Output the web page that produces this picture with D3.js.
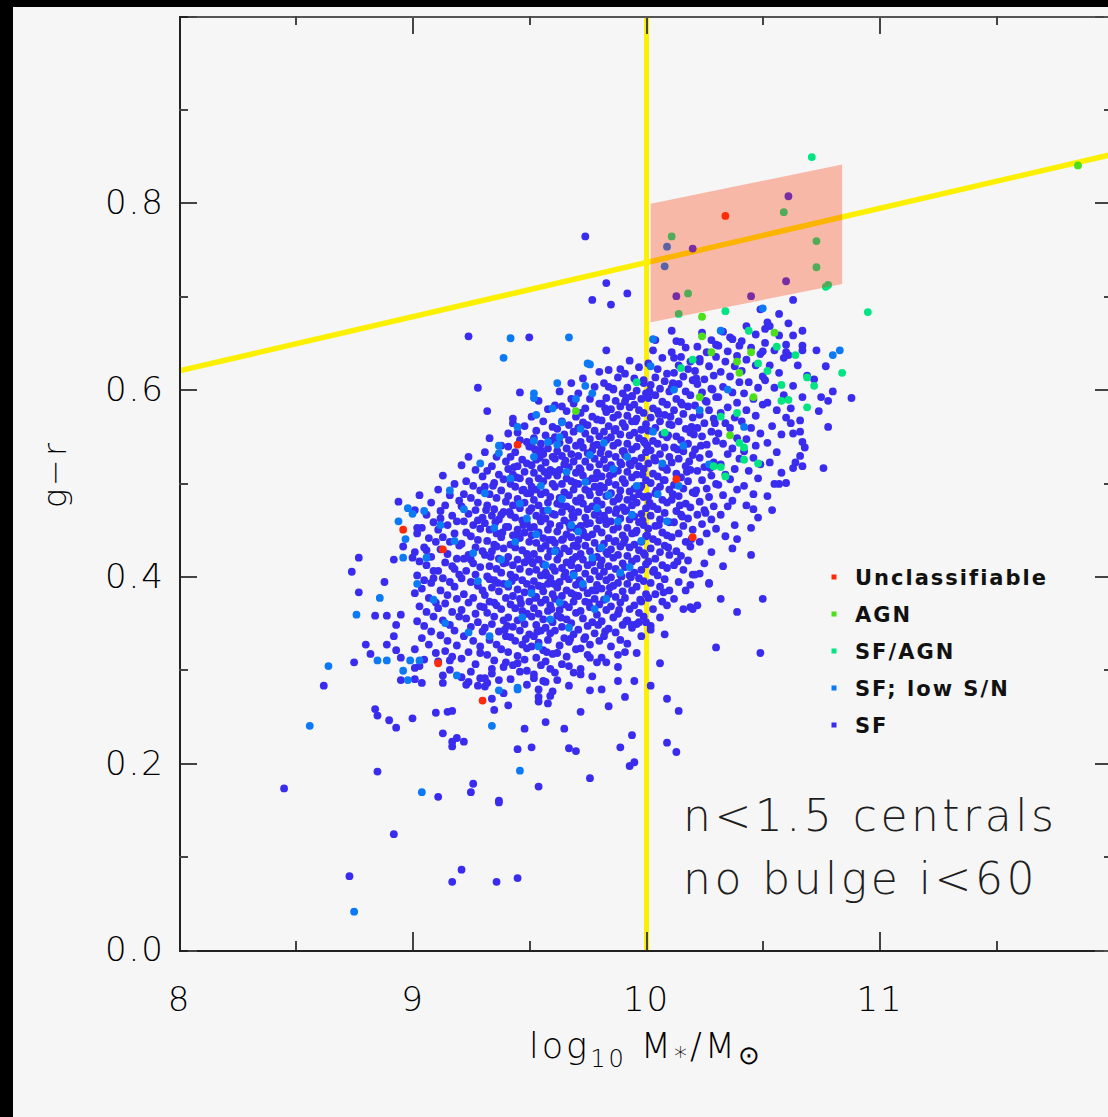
<!DOCTYPE html>
<html>
<head>
<meta charset="utf-8">
<script src="https://cdn.jsdelivr.net/npm/d3@7"></script>
<style>
  html, body { margin: 0; padding: 0; background: #f6f6f6; }
  svg { display: block; }
</style>
</head>
<body>
<svg id="chart" width="1108" height="1117"></svg>
<script>
// ---------------- axis setup ----------------
const massDomain = [8, 12];
const colourDomain = [0, 1];
const massMajorTicks = [8, 9, 10, 11, 12];
const massMinorTicks = [8.5, 9.5, 10.5, 11.5];
const colourMajorTicks = [0, 0.2, 0.4, 0.6, 0.8, 1.0];
const colourMinorTicks = [0.1, 0.3, 0.5, 0.7, 0.9];
const massTickLabels = ["8", "9", "10", "11", ""];
const colourTickLabels = ["0.0", "0.2", "0.4", "0.6", "0.8", ""];

// mass cut and red-sequence dividing line (log M, g-r)
const massCut = 10;
const dividingLine = [[8, 0.62], [12, 0.852]];
// highlighted region above the mass cut
const highlightBox = [[10.02, 0.672], [10.02, 0.799], [10.84, 0.841], [10.84, 0.713]];

// ---------------- galaxies: [log10 M*, g-r] ----------------
const sfPoints = [
  // sparse low-mass / blue tail
  [8.94,.480],[9.02,.452],[8.96,.432],[8.77,.420],[8.92,.418],[9.00,.420],[8.74,.405],[8.88,.394],[8.77,.383],[8.84,.358],
  [8.89,.358],[8.95,.359],[8.93,.348],[8.92,.336],[8.80,.327],[8.89,.327],[8.93,.321],[8.82,.317],[8.75,.308],[8.95,.313],
  [9.01,.302],[8.62,.283],[8.95,.289],[9.01,.290],[9.04,.286],[9.16,.310],[9.13,.286],[9.21,.292],[9.24,.287],[9.28,.283],
  [9.34,.269],[8.84,.258],[8.85,.251],[8.90,.246],[8.93,.238],[9.00,.248],[9.10,.254],[9.15,.255],[9.17,.256],[9.13,.232],
  [9.17,.223],[9.19,.227],[9.22,.223],[9.17,.218],[8.85,.191],[8.45,.173],[9.11,.164],[9.26,.178],[9.25,.169],[9.37,.160],
  [8.92,.124],[9.21,.086],[8.73,.079],[9.17,.073],[9.36,.073],[9.45,.077],
  // sparse upper edge
  [9.74,.764],[9.83,.714],[9.92,.703],[9.77,.696],[9.85,.691],[9.24,.657],[9.50,.656],[9.83,.642],[9.80,.619],[9.89,.622],
  [9.28,.602],[9.46,.597],[9.68,.607],[9.84,.603],[9.99,.610],[9.32,.577],[9.43,.564],[9.45,.554],[9.41,.539],[9.49,.544],
  [9.55,.535],[9.64,.582],[9.69,.585],[9.86,.600],[9.94,.593],
  [10.61,.807],[10.20,.751],[10.60,.716],[10.13,.700],[10.45,.700],
  // high-mass side
  [10.63,.696],[10.49,.686],[10.57,.681],[10.61,.671],[10.67,.663],[10.11,.663],[10.51,.665],[10.52,.672],[10.04,.653],[10.15,.651],
  [10.30,.648],[10.36,.656],[10.40,.647],[10.50,.641],[10.60,.648],[10.60,.640],[10.67,.642],[10.23,.633],[10.12,.634],[10.75,.592],
  [10.78,.588],[10.88,.591],[10.76,.516],[10.63,.516],[10.57,.499],[10.60,.500],[10.54,.471],[10.46,.472],[10.66,.555],[10.67,.544],
  [10.62,.564],[10.66,.529],[10.67,.518],
  [10.32,.376],[10.39,.362],[10.50,.376],[10.16,.365],[10.20,.365],[10.22,.369],[10.27,.392],[10.19,.391],[10.30,.324],[10.49,.318],
  [10.23,.403],[10.33,.411],[10.45,.423],[10.39,.440],
  // sparse lower edge
  [10.06,.307],[10.02,.283],[10.09,.269],[10.14,.256],[10.09,.222],[10.13,.212],[9.94,.230],[9.89,.217],[9.95,.201],[9.93,.197],
  [9.76,.184],[9.54,.175],[9.37,.158],[9.45,.215],[9.51,.217],[9.48,.237],[9.57,.244],[9.65,.237],[9.67,.216],[9.70,.213],
  [9.72,.255],[9.84,.261],[9.91,.271],[9.54,.271],[9.54,.266],[9.58,.264],[9.76,.278],[9.81,.279],[9.88,.288],[9.88,.303],
  [9.95,.288],[9.91,.319],[9.81,.313],[9.76,.313],[9.60,.277],[9.72,.295],[9.67,.304],[9.61,.297],[9.56,.288],[9.52,.291],
  [9.49,.299],[9.45,.307],[9.32,.286],[9.31,.291],[9.34,.301],[9.40,.308],[9.29,.318],[9.94,.348],[9.97,.351],[10.00,.351],
  [10.02,.343],[9.35,.257],[9.41,.262],[9.39,.275],
  // main cloud, 9.0 - 9.1
  [9.03,.487],[9.08,.479],[9.01,.471],[9.06,.466],[9.09,.458],[9.04,.452],[9.02,.446],[9.07,.441],[9.10,.437],[9.05,.431],
  [9.01,.426],[9.08,.421],[9.03,.416],[9.06,.412],[9.09,.406],[9.02,.401],[9.05,.396],[9.08,.393],[9.04,.387],[9.01,.382],
  [9.07,.377],[9.10,.372],[9.03,.368],[9.06,.362],[9.09,.357],[9.02,.352],[9.05,.347],[9.08,.341],[9.04,.334],[9.07,.327],
  [9.01,.322],[9.10,.318],[9.05,.311],[9.03,.304],[9.09,.398],[9.06,.428],
  // 9.1 - 9.2
  [9.13,.508],[9.18,.499],[9.11,.493],[9.16,.487],[9.20,.481],[9.14,.476],[9.12,.470],[9.17,.465],[9.19,.459],[9.15,.455],
  [9.11,.450],[9.18,.446],[9.13,.442],[9.16,.437],[9.20,.433],[9.12,.429],[9.15,.424],[9.19,.419],[9.14,.415],[9.17,.411],
  [9.11,.406],[9.20,.402],[9.13,.398],[9.16,.394],[9.18,.389],[9.12,.385],[9.15,.380],[9.19,.376],[9.14,.371],[9.11,.366],
  [9.17,.362],[9.20,.357],[9.13,.353],[9.16,.348],[9.18,.342],[9.12,.337],[9.15,.331],[9.19,.326],[9.14,.320],[9.17,.314],
  [9.11,.309],[9.16,.300],[9.13,.294],[9.18,.408],[9.12,.462],
  // 9.2 - 9.3
  [9.24,.528],[9.21,.519],[9.27,.514],[9.30,.507],[9.23,.502],[9.26,.497],[9.29,.492],[9.22,.488],[9.25,.484],[9.28,.479],
  [9.21,.475],[9.27,.471],[9.24,.467],[9.30,.463],[9.22,.459],[9.26,.455],[9.29,.451],[9.23,.447],[9.25,.443],[9.28,.439],
  [9.21,.435],[9.27,.431],[9.30,.427],[9.24,.423],[9.22,.419],[9.26,.414],[9.29,.410],[9.23,.406],[9.27,.402],[9.21,.398],
  [9.25,.394],[9.28,.390],[9.30,.385],[9.22,.381],[9.26,.377],[9.24,.372],[9.29,.368],[9.21,.364],[9.27,.360],[9.23,.355],
  [9.28,.351],[9.25,.346],[9.30,.341],[9.22,.336],[9.26,.331],[9.29,.325],[9.24,.319],[9.21,.312],[9.27,.306],[9.25,.298],
  [9.29,.291],[9.23,.284],[9.28,.460],[9.25,.418],
  // 9.3 - 9.4
  [9.33,.548],[9.38,.540],[9.31,.533],[9.36,.528],[9.40,.523],[9.34,.518],[9.32,.513],[9.37,.509],[9.39,.504],[9.35,.500],
  [9.31,.496],[9.38,.492],[9.33,.488],[9.36,.484],[9.40,.480],[9.32,.476],[9.35,.472],[9.39,.469],[9.34,.465],[9.37,.461],
  [9.31,.457],[9.40,.453],[9.33,.450],[9.36,.446],[9.38,.442],[9.32,.438],[9.35,.434],[9.39,.430],[9.34,.427],[9.31,.423],
  [9.37,.419],[9.40,.415],[9.33,.411],[9.36,.408],[9.38,.404],[9.32,.400],[9.35,.396],[9.39,.392],[9.34,.388],[9.37,.384],
  [9.31,.380],[9.40,.377],[9.33,.373],[9.36,.369],[9.38,.365],[9.32,.361],[9.35,.357],[9.39,.353],[9.34,.349],[9.31,.345],
  [9.37,.341],[9.40,.336],[9.33,.332],[9.36,.327],[9.38,.322],[9.32,.316],[9.35,.310],[9.39,.303],[9.34,.296],[9.37,.289],
  [9.31,.282],[9.36,.432],[9.33,.397],[9.38,.466],[9.35,.372],[9.39,.414],
  // 9.4 - 9.5
  [9.43,.569],[9.48,.561],[9.41,.553],[9.46,.546],[9.50,.539],[9.44,.533],
  [9.42,.528],[9.47,.525],[9.49,.521],[9.45,.518],[9.41,.515],[9.48,.512],[9.43,.509],[9.46,.505],[9.50,.502],[9.42,.499],
  [9.44,.496],[9.47,.492],[9.49,.489],[9.41,.486],[9.45,.483],[9.48,.479],[9.43,.476],[9.46,.473],[9.50,.470],[9.42,.466],
  [9.44,.463],[9.47,.460],[9.49,.457],[9.41,.453],[9.45,.450],[9.48,.447],[9.43,.444],[9.46,.441],[9.50,.437],[9.42,.434],
  [9.44,.431],[9.47,.428],[9.49,.424],[9.41,.421],[9.45,.418],[9.48,.415],[9.43,.412],[9.46,.408],[9.50,.405],[9.42,.402],
  [9.44,.399],[9.47,.396],[9.49,.392],[9.41,.389],[9.45,.386],[9.48,.383],[9.43,.379],[9.46,.376],[9.50,.373],[9.42,.370],
  [9.44,.366],[9.47,.363],[9.49,.360],[9.41,.356],[9.45,.353],[9.48,.349],[9.43,.346],[9.46,.342],[9.50,.338],[9.42,.335],
  [9.44,.331],[9.47,.327],[9.49,.323],[9.41,.319],[9.45,.315],[9.48,.311],
  [9.43,.305],[9.46,.298],[9.42,.290],[9.49,.284],
  // 9.5 - 9.6
  [9.54,.588],[9.58,.579],[9.51,.571],[9.56,.566],[9.60,.560],[9.53,.556],
  [9.57,.551],[9.52,.548],[9.59,.545],[9.55,.542],[9.51,.539],[9.58,.537],[9.54,.534],[9.56,.531],[9.60,.528],[9.53,.525],
  [9.57,.522],[9.51,.519],[9.55,.516],[9.59,.514],[9.52,.511],[9.58,.508],[9.54,.505],[9.56,.502],[9.60,.499],[9.51,.496],
  [9.53,.493],[9.57,.490],[9.55,.488],[9.59,.485],[9.52,.482],[9.58,.479],[9.54,.476],[9.51,.473],[9.56,.470],[9.60,.467],
  [9.53,.465],[9.57,.462],[9.55,.459],[9.59,.456],[9.52,.453],[9.58,.450],[9.54,.447],[9.51,.444],[9.56,.441],[9.60,.439],
  [9.53,.436],[9.57,.433],[9.55,.430],[9.59,.427],[9.52,.424],[9.58,.421],[9.54,.418],[9.51,.416],[9.56,.413],[9.60,.410],
  [9.53,.407],[9.57,.404],[9.55,.401],[9.59,.398],[9.52,.395],[9.58,.392],[9.54,.390],[9.51,.387],[9.56,.384],[9.60,.381],
  [9.53,.378],[9.57,.375],[9.55,.372],[9.59,.369],[9.52,.366],[9.58,.363],[9.54,.360],[9.51,.357],[9.56,.354],[9.60,.351],
  [9.53,.348],[9.57,.345],[9.55,.342],[9.59,.339],[9.52,.336],[9.58,.332],[9.54,.329],[9.51,.325],[9.56,.321],[9.60,.317],
  [9.53,.313],[9.57,.309],[9.55,.305],[9.59,.301],
  [9.52,.295],[9.57,.287],[9.54,.279],[9.59,.272],
  // 9.6 - 9.7
  [9.63,.598],[9.68,.590],[9.61,.583],[9.66,.577],[9.70,.571],[9.64,.566],[9.67,.562],
  [9.62,.558],[9.69,.555],[9.65,.552],[9.61,.549],[9.67,.546],[9.63,.543],[9.70,.540],[9.66,.537],[9.62,.534],[9.68,.531],
  [9.64,.529],[9.61,.526],[9.69,.523],[9.65,.520],[9.67,.517],[9.63,.514],[9.70,.511],[9.62,.508],[9.66,.505],[9.68,.502],
  [9.64,.499],[9.61,.496],[9.69,.493],[9.65,.490],[9.67,.487],[9.63,.484],[9.70,.481],[9.62,.478],[9.66,.475],[9.68,.472],
  [9.64,.469],[9.61,.466],[9.69,.463],[9.65,.460],[9.67,.457],[9.63,.454],[9.70,.451],[9.62,.448],[9.66,.445],[9.68,.442],
  [9.64,.439],[9.61,.436],[9.69,.433],[9.65,.430],[9.67,.427],[9.63,.424],[9.70,.421],[9.62,.418],[9.66,.415],[9.68,.412],
  [9.64,.409],[9.61,.406],[9.69,.403],[9.65,.400],[9.67,.397],[9.63,.394],[9.70,.391],[9.62,.388],[9.66,.385],[9.68,.382],
  [9.64,.379],[9.61,.376],[9.69,.373],[9.65,.370],[9.67,.367],[9.63,.364],[9.70,.361],[9.62,.358],[9.66,.354],[9.68,.350],
  [9.64,.346],[9.61,.342],[9.69,.338],[9.65,.334],[9.67,.330],[9.63,.326],[9.70,.322],[9.62,.318],[9.66,.314],
  [9.64,.306],[9.69,.297],[9.62,.289],[9.67,.283],
  // 9.7 - 9.8
  [9.73,.612],[9.78,.603],[9.71,.596],[9.76,.590],[9.80,.585],[9.74,.580],[9.72,.575],
  [9.77,.571],[9.79,.568],[9.73,.565],[9.75,.562],[9.71,.559],[9.78,.556],[9.74,.553],[9.80,.550],[9.76,.547],[9.72,.544],
  [9.79,.541],[9.73,.538],[9.77,.535],[9.75,.532],[9.71,.529],[9.78,.526],[9.74,.523],[9.80,.520],[9.76,.517],[9.72,.514],
  [9.79,.511],[9.73,.508],[9.77,.505],[9.75,.502],[9.71,.499],[9.78,.496],[9.74,.493],[9.80,.490],[9.76,.487],[9.72,.484],
  [9.79,.481],[9.73,.478],[9.77,.475],[9.75,.472],[9.71,.469],[9.78,.466],[9.74,.463],[9.80,.460],[9.76,.457],[9.72,.454],
  [9.79,.451],[9.73,.448],[9.77,.445],[9.75,.442],[9.71,.439],[9.78,.436],[9.74,.433],[9.80,.430],[9.76,.427],[9.72,.424],
  [9.79,.421],[9.73,.418],[9.77,.415],[9.75,.412],[9.71,.409],[9.78,.406],[9.74,.403],[9.80,.400],[9.76,.397],[9.72,.394],
  [9.79,.391],[9.73,.388],[9.77,.385],[9.75,.382],[9.71,.379],[9.78,.376],[9.74,.373],[9.80,.370],[9.76,.367],[9.72,.363],
  [9.79,.359],[9.73,.355],[9.77,.351],[9.75,.347],[9.71,.343],[9.78,.339],[9.74,.335],[9.80,.331],[9.76,.327],[9.72,.323],
  [9.75,.316],[9.79,.308],[9.72,.301],[9.77,.293],
  // 9.8 - 9.9
  [9.84,.621],[9.88,.613],[9.82,.607],[9.86,.601],[9.90,.596],
  [9.83,.591],[9.87,.588],[9.81,.585],[9.89,.582],[9.85,.579],[9.83,.576],[9.88,.573],[9.86,.570],[9.81,.567],[9.90,.564],
  [9.84,.561],[9.87,.558],[9.82,.555],[9.89,.552],[9.85,.549],[9.83,.546],[9.88,.543],[9.86,.540],[9.81,.537],[9.90,.534],
  [9.84,.531],[9.87,.528],[9.82,.525],[9.89,.522],[9.85,.519],[9.83,.516],[9.88,.513],[9.86,.510],[9.81,.507],[9.90,.504],
  [9.84,.501],[9.87,.498],[9.82,.495],[9.89,.492],[9.85,.489],[9.83,.486],[9.88,.483],[9.86,.480],[9.81,.477],[9.90,.474],
  [9.84,.471],[9.87,.468],[9.82,.465],[9.89,.462],[9.85,.459],[9.83,.456],[9.88,.453],[9.86,.450],[9.81,.447],[9.90,.444],
  [9.84,.441],[9.87,.438],[9.82,.435],[9.89,.432],[9.85,.429],[9.83,.426],[9.88,.423],[9.86,.420],[9.81,.417],[9.90,.414],
  [9.84,.411],[9.87,.408],[9.82,.405],[9.89,.402],[9.85,.399],[9.83,.396],[9.88,.393],[9.86,.390],[9.81,.387],[9.90,.384],
  [9.84,.381],[9.87,.378],[9.82,.375],[9.89,.372],[9.85,.368],[9.83,.364],[9.88,.360],[9.86,.356],[9.81,.352],[9.90,.348],
  [9.84,.344],[9.87,.340],[9.82,.336],[9.89,.332],
  [9.85,.325],[9.88,.316],[9.83,.308],
  // 9.9 - 10.0
  [9.93,.631],[9.97,.624],[9.91,.617],[9.95,.612],[9.99,.607],
  [9.92,.602],[9.96,.599],[10.00,.596],[9.94,.593],[9.98,.590],[9.91,.587],[9.95,.584],[9.93,.581],[9.97,.578],[9.99,.575],
  [9.92,.572],[9.96,.569],[9.94,.566],[10.00,.563],[9.91,.560],[9.98,.557],[9.95,.554],[9.93,.551],[9.97,.548],[9.99,.545],
  [9.92,.542],[9.96,.539],[9.94,.536],[10.00,.533],[9.91,.530],[9.98,.527],[9.95,.524],[9.93,.521],[9.97,.518],[9.99,.515],
  [9.92,.512],[9.96,.509],[9.94,.506],[10.00,.503],[9.91,.500],[9.98,.497],[9.95,.494],[9.93,.491],[9.97,.488],[9.99,.485],
  [9.92,.482],[9.96,.479],[9.94,.476],[10.00,.473],[9.91,.470],[9.98,.467],[9.95,.464],[9.93,.461],[9.97,.458],[9.99,.455],
  [9.92,.452],[9.96,.449],[9.94,.446],[10.00,.443],[9.91,.440],[9.98,.437],[9.95,.434],[9.93,.431],[9.97,.428],[9.99,.425],
  [9.92,.422],[9.96,.419],[9.94,.416],[10.00,.413],[9.91,.410],[9.98,.407],[9.95,.404],[9.93,.401],[9.97,.398],[9.99,.395],
  [9.92,.392],[9.96,.389],[9.94,.385],[10.00,.381],[9.91,.377],[9.98,.373],[9.95,.369],[9.93,.365],[9.97,.361],[9.99,.357],
  [9.92,.353],[9.96,.349],[9.94,.345],
  [9.98,.336],[9.92,.328],[9.96,.318],
  // 10.0 - 10.1
  [10.03,.642],[10.07,.634],[10.01,.628],[10.05,.622],[10.09,.617],[10.04,.613],
  [10.08,.609],[10.02,.605],[10.06,.601],[10.10,.598],[10.04,.594],[10.01,.591],[10.07,.587],[10.09,.584],[10.03,.580],[10.05,.577],
  [10.08,.573],[10.02,.570],[10.06,.566],[10.10,.563],[10.04,.559],[10.01,.556],[10.07,.552],[10.09,.549],[10.03,.545],[10.05,.542],
  [10.08,.538],[10.02,.535],[10.06,.531],[10.10,.528],[10.04,.524],[10.01,.521],[10.07,.517],[10.09,.514],[10.03,.510],[10.05,.507],
  [10.08,.503],[10.02,.500],[10.06,.496],[10.10,.493],[10.04,.489],[10.01,.486],[10.07,.482],[10.09,.479],[10.03,.475],[10.05,.472],
  [10.08,.468],[10.02,.465],[10.06,.461],[10.10,.458],[10.04,.454],[10.01,.451],[10.07,.447],[10.09,.444],[10.03,.440],[10.05,.437],
  [10.08,.433],[10.02,.430],[10.06,.426],[10.10,.423],[10.04,.419],[10.01,.416],[10.07,.412],[10.09,.409],[10.03,.405],[10.05,.401],
  [10.08,.397],[10.02,.393],[10.06,.389],[10.10,.385],[10.04,.381],[10.01,.377],[10.07,.373],[10.09,.369],[10.03,.365],
  [10.06,.356],[10.02,.347],[10.08,.338],
  // 10.1 - 10.2
  [10.13,.652],[10.17,.645],[10.11,.640],[10.15,.635],[10.19,.630],[10.14,.626],
  [10.18,.622],[10.12,.618],[10.16,.614],[10.20,.610],[10.14,.606],[10.11,.602],[10.17,.598],[10.19,.594],[10.13,.590],[10.15,.586],
  [10.18,.582],[10.12,.578],[10.16,.574],[10.20,.570],[10.14,.566],[10.11,.562],[10.17,.558],[10.19,.554],[10.13,.550],[10.15,.546],
  [10.18,.542],[10.12,.538],[10.16,.534],[10.20,.530],[10.14,.526],[10.11,.522],[10.17,.518],[10.19,.514],[10.13,.510],[10.15,.506],
  [10.18,.502],[10.12,.498],[10.16,.494],[10.20,.490],[10.14,.486],[10.11,.482],[10.17,.478],[10.19,.474],[10.13,.470],[10.15,.466],
  [10.18,.462],[10.12,.458],[10.16,.454],[10.20,.450],[10.14,.446],[10.11,.442],[10.17,.437],[10.19,.432],[10.13,.427],[10.15,.422],
  [10.18,.417],[10.12,.412],[10.16,.407],[10.20,.402],
  [10.14,.394],[10.17,.385],[10.12,.376],[10.19,.367],
  // 10.2 - 10.3
  [10.24,.661],[10.28,.653],[10.22,.646],[10.26,.640],[10.30,.635],
  [10.23,.630],[10.27,.625],[10.21,.620],[10.29,.615],[10.25,.611],[10.22,.606],[10.28,.601],[10.24,.597],[10.30,.592],[10.26,.587],
  [10.21,.583],[10.27,.578],[10.23,.573],[10.29,.569],[10.25,.564],[10.22,.559],[10.28,.555],[10.24,.550],[10.30,.545],[10.26,.541],
  [10.21,.536],[10.27,.531],[10.23,.527],[10.29,.522],[10.25,.517],[10.22,.513],[10.28,.508],[10.24,.503],[10.30,.499],[10.26,.494],
  [10.21,.489],[10.27,.485],[10.23,.480],[10.29,.475],[10.25,.471],[10.22,.466],[10.28,.461],[10.24,.456],[10.30,.451],[10.26,.446],
  [10.23,.437],[10.28,.426],[10.25,.414],[10.21,.402],[10.27,.393],
  // 10.3 - 10.4
  [10.33,.662],[10.37,.654],[10.31,.647],[10.35,.641],[10.39,.636],
  [10.34,.630],[10.38,.625],[10.32,.619],[10.36,.614],[10.40,.608],[10.33,.603],[10.37,.597],[10.31,.592],[10.39,.586],[10.35,.581],
  [10.32,.575],[10.38,.570],[10.34,.564],[10.36,.559],[10.31,.553],[10.39,.548],[10.33,.542],[10.37,.537],[10.35,.531],[10.40,.526],
  [10.32,.520],[10.38,.515],[10.34,.509],[10.36,.504],[10.31,.498],[10.39,.493],[10.33,.487],[10.37,.481],[10.35,.475],
  [10.32,.466],[10.38,.455],[10.34,.443],[10.37,.430],
  // 10.4 - 10.5
  [10.43,.668],[10.47,.659],[10.41,.652],[10.45,.645],[10.49,.638],[10.43,.632],[10.47,.626],[10.41,.620],[10.50,.614],[10.44,.608],
  [10.48,.602],[10.42,.596],[10.46,.590],[10.50,.584],[10.43,.578],[10.47,.572],[10.41,.566],[10.45,.559],[10.49,.553],[10.43,.547],
  [10.47,.540],[10.42,.534],[10.46,.527],[10.49,.520],[10.44,.513],[10.48,.505],[10.42,.497],[10.46,.488],[10.43,.476],[10.48,.463],
  [10.45,.452],
  // 10.5 - 10.9
  [10.53,.668],[10.57,.658],[10.51,.650],[10.55,.642],[10.59,.634],[10.53,.626],[10.57,.618],[10.51,.610],[10.55,.602],[10.59,.594],
  [10.52,.586],[10.56,.578],[10.60,.570],[10.54,.561],[10.58,.552],[10.52,.543],[10.56,.533],[10.53,.522],[10.58,.511],[10.55,.499],
  [10.52,.486],
  [10.63,.658],[10.67,.647],[10.61,.637],[10.65,.626],[10.69,.615],[10.63,.604],[10.67,.592],[10.62,.580],[10.66,.567],[10.63,.553],
  [10.68,.538],[10.64,.522],
  [10.73,.642],[10.77,.625],[10.72,.611],[10.80,.598],[10.74,.577],[10.78,.560],
  // densest part of the cloud
  [9.345,.497],[9.315,.471],[9.385,.447],[9.335,.421],[9.365,.393],[9.305,.367],[9.395,.343],[9.355,.458],
  [9.435,.517],[9.475,.493],[9.415,.469],[9.455,.443],[9.495,.419],[9.425,.395],[9.465,.371],[9.405,.347],[9.485,.333],[9.445,.506],
  [9.475,.455],
  [9.525,.536],[9.565,.512],[9.505,.489],[9.545,.463],[9.585,.439],[9.515,.414],[9.555,.389],[9.595,.365],[9.535,.341],[9.575,.319],
  [9.545,.527],[9.505,.452],[9.575,.401],[9.525,.377],
  [9.615,.547],[9.655,.524],[9.695,.500],[9.635,.477],[9.675,.452],[9.615,.428],[9.655,.404],[9.695,.380],[9.635,.356],[9.675,.333],
  [9.605,.512],[9.685,.465],[9.645,.440],[9.605,.392],[9.685,.418],
  [9.735,.563],[9.775,.540],[9.715,.516],[9.755,.491],[9.795,.468],[9.735,.444],[9.775,.420],[9.715,.396],[9.755,.372],[9.795,.348],
  [9.735,.333],[9.705,.480],[9.785,.505],[9.745,.456],[9.705,.432],[9.785,.385],
  [9.825,.580],[9.865,.556],[9.805,.532],[9.845,.508],[9.885,.485],[9.825,.461],[9.865,.437],[9.805,.412],[9.845,.388],[9.885,.364],
  [9.825,.341],[9.895,.520],[9.805,.497],[9.875,.472],[9.835,.424],[9.895,.400],
  [9.915,.591],[9.955,.566],[9.995,.543],[9.935,.519],[9.975,.495],[9.915,.471],[9.955,.447],[9.995,.423],[9.935,.399],[9.975,.375],
  [9.915,.352],[9.905,.534],[9.985,.509],[9.945,.484],[9.905,.436],[9.985,.460],
  [10.015,.598],[10.055,.574],[10.095,.551],[10.035,.527],[10.075,.503],[10.015,.479],[10.055,.455],[10.095,.431],[10.035,.407],[10.075,.383],
  [10.005,.540],[10.085,.516],[10.045,.492],[10.005,.444],
  [10.115,.607],[10.155,.584],[10.195,.560],[10.135,.536],[10.175,.512],[10.115,.488],[10.155,.464],[10.195,.440],[10.135,.416],[10.105,.571],
  [10.185,.523],[10.145,.476],
  [10.215,.612],[10.255,.588],[10.295,.564],[10.235,.540],[10.275,.516],[10.215,.492],[10.255,.468],[10.285,.600],[10.205,.552]
];

const sfLowSnPoints = [
  [8.98,.473],[9.00,.467],[8.94,.459],[8.96,.420],[8.86,.377],[8.76,.359],[8.64,.304],[8.85,.310],[8.89,.310],[9.03,.310],
  [8.99,.310],[8.96,.299],[8.98,.289],[9.19,.294],[8.56,.240],[9.34,.240],[9.04,.169],[8.75,.041],[9.42,.655],[9.67,.656],
  [9.39,.634],[10.03,.654],[9.75,.628],[9.76,.627],[10.02,.625],[9.62,.607],[9.74,.604],[9.52,.596],[9.52,.591],[9.77,.596],
  [9.53,.573],[9.52,.545],[9.58,.544],[9.63,.549],[9.64,.565],[9.37,.532],[9.46,.192],[9.45,.279],[9.45,.281],[9.37,.278],
  [10.32,.663],[10.80,.637],[10.83,.642],[10.09,.753],[10.08,.732],[10.50,.687],
  [9.12,.455],[9.18,.438],[9.22,.472],[9.26,.425],[9.31,.489],[9.35,.452],[9.28,.395],[9.38,.418],[9.42,.505],[9.46,.478],
  [9.44,.437],[9.49,.462],[9.41,.392],[9.47,.356],[9.52,.528],[9.55,.497],[9.58,.471],[9.53,.445],[9.57,.412],[9.51,.382],
  [9.59,.354],[9.54,.325],[9.62,.541],[9.66,.512],[9.64,.483],[9.68,.455],[9.61,.427],[9.69,.401],[9.63,.372],[9.67,.345],
  [9.72,.558],[9.76,.530],[9.74,.501],[9.79,.473],[9.71,.448],[9.77,.420],[9.73,.392],[9.78,.365],[9.82,.543],[9.86,.515],
  [9.84,.487],[9.88,.459],[9.81,.431],[9.89,.404],[9.83,.376],[9.92,.528],[9.96,.497],[9.94,.466],[9.98,.438],[9.93,.410],
  [10.03,.555],[10.07,.521],[10.05,.488],[10.09,.459],[10.12,.600],[10.16,.540],[10.14,.497],[10.23,.578],[10.27,.520],[10.35,.600],
  [10.42,.560],[9.06,.420],[9.09,.375],[9.14,.350],[9.24,.340],[9.33,.336],[9.02,.392],[9.16,.492],[9.29,.521],[9.37,.540],
  [9.45,.560],[9.60,.580],[9.70,.590],[9.05,.470],[8.97,.440]
];

const sfAgnPoints = [
  [9.96,.608],[10.08,.554],[10.71,.849],[10.34,.684],[10.95,.683],[10.77,.710],[10.78,.712],[10.20,.632],[10.15,.623],[10.44,.663],
  [10.56,.646],[10.64,.637],[10.48,.628],[10.52,.620],[10.84,.618],[10.69,.613],[10.72,.604],[10.58,.605],[10.61,.589],[10.58,.588],
  [10.69,.581],[10.39,.575],[10.32,.571],[10.40,.543],[10.42,.538],[10.42,.525],[10.48,.521],[10.34,.507],[10.29,.518],[10.32,.517],
  [10.59,.790],[10.11,.764],[10.73,.759],[10.73,.731],[10.18,.703],[10.14,.681]
];

const agnPoints = [
  [9.70,.577],[10.24,.678],[10.24,.657],[10.28,.640],[10.45,.640],[10.39,.630],[10.40,.618],[10.46,.592],[10.23,.592],[10.36,.551],
  [10.55,.661],[11.85,.840]
];

const unclassifiablePoints = [
  [8.96,.450],[9.13,.429],[9.11,.307],[9.30,.267],[9.45,.541],[10.20,.442],[10.34,.786],[10.13,.504]
];

// legend order, labels and colours
const classLabels = ["Unclassifiable", "AGN", "SF/AGN", "SF; low S/N", "SF"];
const classColours = ["#ff2a0a", "#4ce01c", "#00e582", "#0c7af4", "#3a2cef"];

// ---------------- drawing ----------------
const W = 1108, H = 1117;
const svg = d3.select("#chart");

svg.append("rect").attr("width", W).attr("height", H).attr("fill", "#f6f6f6");
svg.append("rect").attr("x", 0).attr("y", 0).attr("width", 13).attr("height", H).attr("fill", "#000");
svg.append("rect").attr("x", 0).attr("y", 0).attr("width", W).attr("height", 7).attr("fill", "#000");

const x = d3.scaleLinear().domain(massDomain).range([179, 1113]);
const y = d3.scaleLinear().domain(colourDomain).range([950, 16]);

const thinFont = "'DejaVu Sans', 'Liberation Sans', sans-serif";

// reference lines (drawn beneath the galaxies)
svg.append("line")
  .attr("x1", x(massCut)).attr("x2", x(massCut))
  .attr("y1", y(colourDomain[0])).attr("y2", y(colourDomain[1]))
  .attr("stroke", "#fbf000").attr("stroke-width", 5);

svg.append("path")
  .attr("d", d3.line().x(d => x(d[0])).y(d => y(d[1]))(dividingLine))
  .attr("stroke", "#fbf000").attr("stroke-width", 5.5).attr("fill", "none");

// galaxies
const layers = [
  { pts: sfPoints, colour: classColours[4] },
  { pts: sfLowSnPoints, colour: classColours[3] },
  { pts: sfAgnPoints, colour: classColours[2] },
  { pts: agnPoints, colour: classColours[1] },
  { pts: unclassifiablePoints, colour: classColours[0] }
];
const pointGroup = svg.append("g");
layers.forEach(layer => {
  pointGroup.append("g").selectAll("circle")
    .data(layer.pts)
    .join("circle")
    .attr("cx", d => x(d[0]))
    .attr("cy", d => y(d[1]))
    .attr("r", 3.9)
    .attr("fill", layer.colour);
});

// translucent highlight region
svg.append("path")
  .attr("d", d3.line().x(d => x(d[0])).y(d => y(d[1]))(highlightBox) + "Z")
  .attr("fill", "rgb(252,52,0)")
  .attr("fill-opacity", 0.32);

// axes
function styleAxis(g, colour) {
  g.selectAll(".domain").attr("stroke", colour).attr("stroke-width", 2);
  g.selectAll(".tick line").attr("stroke", "#444").attr("stroke-width", 2);
}

const bottomMajor = svg.append("g").attr("transform", `translate(0,${y(0)})`)
  .call(d3.axisBottom(x).tickValues(massMajorTicks).tickSizeInner(-18).tickSizeOuter(0)
    .tickPadding(37).tickFormat((d, i) => massTickLabels[i]));
styleAxis(bottomMajor, "#222");
bottomMajor.selectAll("text").attr("font-family", thinFont).attr("font-weight", 200)
  .attr("font-size", 34).attr("fill", "#000").attr("letter-spacing", 2);

const bottomMinor = svg.append("g").attr("transform", `translate(0,${y(0)})`)
  .call(d3.axisBottom(x).tickValues(massMinorTicks).tickSize(-9).tickFormat(""));
styleAxis(bottomMinor, "#222");

const topMajor = svg.append("g").attr("transform", `translate(0,${y(1)})`)
  .call(d3.axisTop(x).tickValues(massMajorTicks).tickSizeInner(-18).tickSizeOuter(0).tickFormat(""));
styleAxis(topMajor, "#555");
const topMinor = svg.append("g").attr("transform", `translate(0,${y(1)})`)
  .call(d3.axisTop(x).tickValues(massMinorTicks).tickSize(-9).tickFormat(""));
styleAxis(topMinor, "#555");

const leftMajor = svg.append("g").attr("transform", `translate(${x(8)},0)`)
  .call(d3.axisLeft(y).tickValues(colourMajorTicks).tickSizeInner(-18).tickSizeOuter(0)
    .tickPadding(14).tickFormat((d, i) => colourTickLabels[i]));
styleAxis(leftMajor, "#222");
leftMajor.selectAll("text").attr("font-family", thinFont).attr("font-weight", 200)
  .attr("font-size", 34).attr("fill", "#000").attr("letter-spacing", 2);

const leftMinor = svg.append("g").attr("transform", `translate(${x(8)},0)`)
  .call(d3.axisLeft(y).tickValues(colourMinorTicks).tickSize(-9).tickFormat(""));
styleAxis(leftMinor, "#222");

const rightMajor = svg.append("g").attr("transform", `translate(${x(12)},0)`)
  .call(d3.axisRight(y).tickValues(colourMajorTicks).tickSizeInner(-18).tickSizeOuter(0).tickFormat(""));
styleAxis(rightMajor, "#555");
const rightMinor = svg.append("g").attr("transform", `translate(${x(12)},0)`)
  .call(d3.axisRight(y).tickValues(colourMinorTicks).tickSize(-9).tickFormat(""));
styleAxis(rightMinor, "#555");

svg.selectAll("line, .domain").attr("shape-rendering", "crispEdges");

// axis titles
const xTitle = svg.append("text")
  .attr("x", x(10)).attr("y", 1058)
  .attr("text-anchor", "middle")
  .attr("font-family", thinFont).attr("font-weight", 200)
  .attr("font-size", 35).attr("fill", "#000").attr("letter-spacing", 3);
xTitle.append("tspan").text("log");
xTitle.append("tspan").attr("font-size", 24).attr("dy", 9).text("10");
xTitle.append("tspan").attr("dy", -9).text(" M");
xTitle.append("tspan").attr("font-size", 26).attr("dy", 8).text("*");
xTitle.append("tspan").attr("dy", -8).text("/M");
xTitle.append("tspan").attr("font-size", 26).attr("dy", 6).text("\u2299");

svg.append("text")
  .attr("transform", "translate(66,474) rotate(-90)")
  .attr("text-anchor", "middle")
  .attr("font-family", thinFont).attr("font-weight", 200)
  .attr("font-size", 32).attr("fill", "#000").attr("letter-spacing", 3)
  .text("g\u2212r");

// legend
const legendY = [577, 614, 651, 688, 725];
const legend = svg.append("g");
legend.selectAll("rect")
  .data(classLabels)
  .join("rect")
  .attr("x", 831.5).attr("y", (d, i) => legendY[i] - 2.5)
  .attr("width", 5).attr("height", 5)
  .attr("fill", (d, i) => classColours[i]);
legend.selectAll("text")
  .data(classLabels)
  .join("text")
  .attr("x", 855).attr("y", (d, i) => legendY[i] + 8)
  .attr("font-family", thinFont).attr("font-weight", 700)
  .attr("font-size", 21).attr("letter-spacing", 2).attr("fill", "#111")
  .text(d => d);

// sample description
const noteLines = ["n<1.5 centrals", "no bulge i<60"];
svg.append("g").selectAll("text")
  .data(noteLines)
  .join("text")
  .attr("x", 683).attr("y", (d, i) => 831 + i * 63)
  .attr("font-family", thinFont).attr("font-weight", 200)
  .attr("font-size", 44).attr("letter-spacing", 3.5).attr("fill", "#1e1e1e")
  .text(d => d);
</script>
</body>
</html>
